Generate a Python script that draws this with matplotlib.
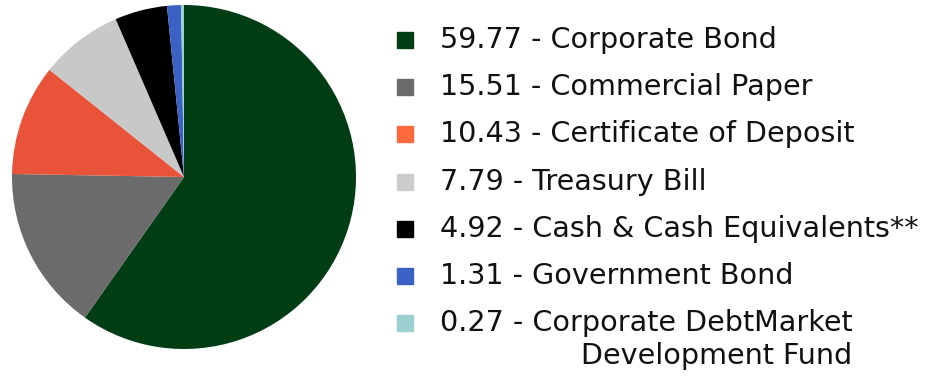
import matplotlib.pyplot as plt
from matplotlib.patches import Rectangle

values = [59.77, 15.51, 10.43, 7.79, 4.92, 1.31, 0.27]
names = ["Corporate Bond", "Commercial Paper", "Certificate of Deposit",
         "Treasury Bill", "Cash & Cash Equivalents**", "Government Bond",
         "Corporate DebtMarket\nDevelopment Fund"]
colors = ["#003d14", "#6c6b6b", "#e8533a", "#c8c8c8", "#000000", "#3a62c4", "#9ccfcf"]
legend_colors = ["#003d14", "#6c6b6b", "#ff6a3d", "#cccccc", "#000000", "#3a62c4", "#9ccfcf"]

fig = plt.figure(figsize=(9.29, 3.81), dpi=100)
W, H = 929, 381

# pie: centre (184,177), radius 172 px
ax = fig.add_axes([(184 - 172) / W, 1 - (177 + 172) / H, 344 / W, 344 / H])
ax.pie(values, colors=colors, startangle=90, counterclock=False, radius=1,
       wedgeprops=dict(linewidth=0))
ax.set_xlim(-1, 1)
ax.set_ylim(-1, 1)
ax.set_aspect("equal")

fs = 20.6
row_y = [40, 87, 134, 182, 229, 276, 323]
for v, n, c, y in zip(values, names, legend_colors, row_y):
    fig.patches.append(Rectangle((397 / W, 1 - (y + 8) / H), 16 / W, 16 / H,
                                 transform=fig.transFigure, color=c))
    lines = n.split("\n")
    first = f"{v:.2f} - {lines[0]}"
    t = fig.text(440 / W, 1 - y / H, first, fontsize=fs, va="center", ha="left",
                 color="#111111")
    if len(lines) > 1:
        fig.canvas.draw()
        bb = t.get_window_extent()
        fig.text(bb.x1 / W, 1 - (y + 33) / H, lines[1], fontsize=fs,
                 va="center", ha="right", color="#111111")

fig.savefig("out.png", dpi=100)
